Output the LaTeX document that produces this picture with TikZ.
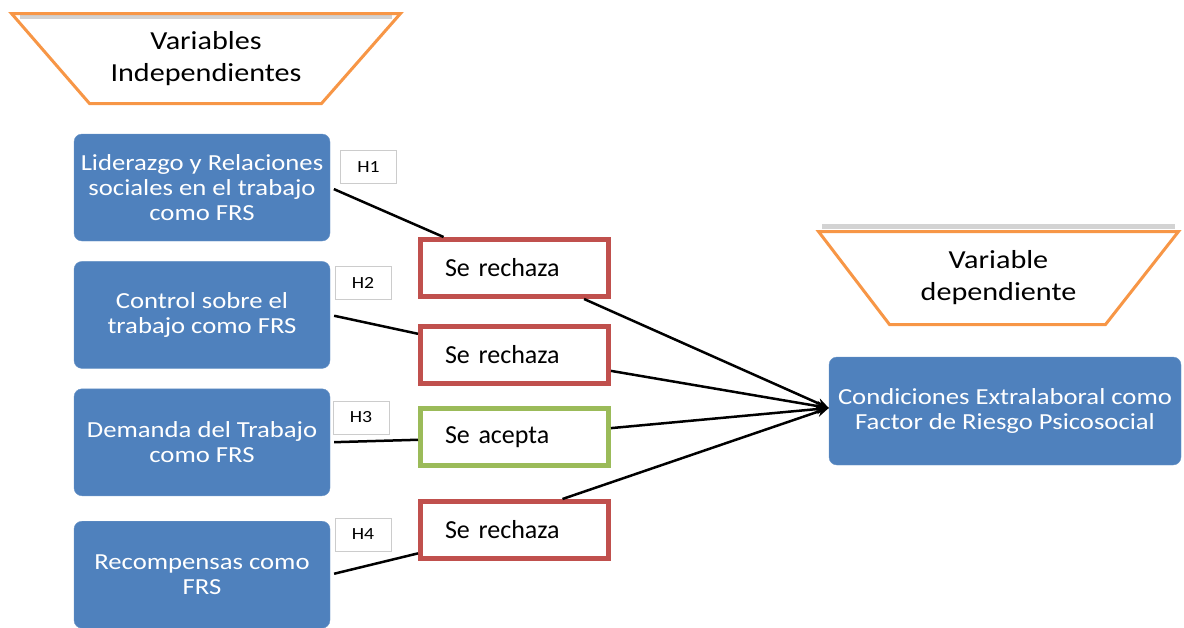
\documentclass[tikz,border=0pt]{standalone}
\usepackage{fontspec}
\setmainfont{Carlito}
\newfontfamily\widefont{Carlito}[FakeStretch=1.16]
\usetikzlibrary{positioning,arrows.meta}
\definecolor{boxblue}{HTML}{4F81BD}
\definecolor{rejred}{HTML}{C0504D}
\definecolor{accgreen}{HTML}{9BBB59}
\definecolor{headorange}{HTML}{F79646}

\begin{document}
\begin{tikzpicture}[x=1pt, y=-1pt, >={Stealth[length=12pt,width=10pt]},
    varbox/.style={rectangle, rounded corners=8pt, fill=boxblue, draw=boxblue!85!white, text=white, align=center,
      minimum width=256pt, minimum height=107pt, inner sep=2pt, font=\widefont\fontsize{23}{25}\selectfont},
    headshape/.style={draw=headorange, line width=3pt, fill=white, line join=miter},
    headtext/.style={align=center, inner sep=0pt, font=\widefont\fontsize{26}{32}\selectfont},
    hlabel/.style={draw=gray!40, fill=white, minimum width=56pt, minimum height=33pt, inner sep=0pt,
      font=\widefont\fontsize{17}{17}\selectfont},
    result/.style={rectangle, fill=white, line width=5pt, text width=139pt, align=left, inner xsep=24.5pt,
      inner ysep=0pt, minimum height=57pt, font=\fontsize{26}{26}\selectfont},
    link/.style={line width=2.5pt, shorten <=4pt},
    arrow/.style={->, line width=2.5pt}]

  \useasboundingbox (0,0) rectangle (1184,627);

  % Encabezados (trapecios)
  \draw[headshape] (11.5,13.5) -- (400.5,13.5) -- (321.5,103.5) -- (89.5,103.5) -- cycle;
  \draw[gray, opacity=0.35, line width=4pt] (20,17) -- (392,17);
  \node[headtext] (indep) at (206,58.5) {Variables\\Independientes};

  \draw[gray, opacity=0.35, line width=5pt] (822,226) -- (1175,226);
  \draw[headshape] (818.5,231.5) -- (1178.5,231.5) -- (1105.5,324.5) -- (889.5,324.5) -- cycle;
  \node[headtext] (dep) at (998.5,278) {Variable\\dependiente};

  % Variables independientes
  \node[varbox] (lider) at (202,187.5) {Liderazgo y Relaciones\\sociales en el trabajo\\como FRS};
  \node[varbox, below=20pt of lider] (control) {Control sobre el\\trabajo como FRS};
  \node[varbox, below=20pt of control] (demanda) {Demanda del Trabajo\\como FRS};
  \node[varbox, below=25pt of demanda] (recomp) {Recompensas como\\FRS};

  % Variable dependiente
  \node[varbox, minimum width=352pt, minimum height=108pt] (extra) at (1005,411) {Condiciones Extralaboral como\\Factor de Riesgo Psicosocial};

  % Hipotesis
  \node[hlabel] (h1) at (368.5,167) {H1};
  \node[hlabel] (h2) at (363,282.5) {H2};
  \node[hlabel] (h3) at (361,417.5) {H3};
  \node[hlabel] (h4) at (363,534.5) {H4};

  % Resultados
  \node[result, draw=rejred] (res1) at (514.5,268) {Se rechaza};
  \node[result, draw=rejred] (res2) at (514.5,354.5) {Se rechaza};
  \node[result, draw=accgreen] (res3) at (514.5,437) {Se acepta};
  \node[result, draw=rejred] (res4) at (514.5,530) {Se rechaza};

  % Conexiones variable -> resultado
  \draw[link] (lider.east) -- (res1);
  \draw[link] (control.east) -- (res2);
  \draw[link] (demanda.east) -- (res3);
  \draw[link] (recomp.east) -- (res4);

  % Conexiones resultado -> variable dependiente
  \draw[arrow] (res1) -- ([yshift=3pt]extra.west);
  \draw[arrow] (res2) -- ([yshift=3pt]extra.west);
  \draw[arrow] (res3) -- ([yshift=3pt]extra.west);
  \draw[arrow] ([xshift=48pt]res4.north) -- ([yshift=3pt]extra.west);

\end{tikzpicture}
\end{document}
